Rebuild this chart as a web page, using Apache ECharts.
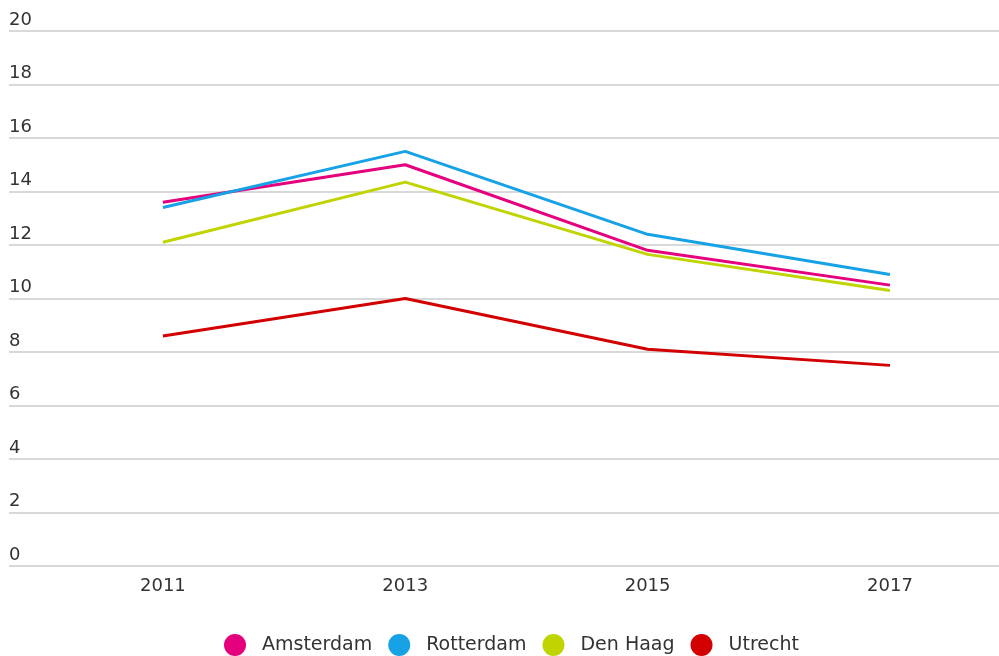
<!DOCTYPE html>
<html>
<head>
<meta charset="utf-8">
<script src="https://cdn.jsdelivr.net/npm/echarts@6/dist/echarts.min.js"></script>
<style>
html,body{margin:0;padding:0;background:#fff;}
#c{width:999px;height:656px;}
</style>
</head>
<body>
<div id="c"></div>
<script>
var years = [2011, 2013, 2015, 2017];
var seriesNames = ['Amsterdam', 'Rotterdam', 'Den Haag', 'Utrecht'];
var amsterdam = [13.6, 15.0, 11.8, 10.5];
var rotterdam = [13.4, 15.5, 12.4, 10.9];
var denHaag = [12.1, 14.35, 11.65, 10.3];
var utrecht = [8.6, 10.0, 8.1, 7.5];
var yTicks = [0, 2, 4, 6, 8, 10, 12, 14, 16, 18, 20];
var colors = ['#e5007d', '#17a2e6', '#bfd400', '#d20000'];

var values = [amsterdam, rotterdam, denHaag, utrecht];
var font = 'Verdana, "DejaVu Sans", sans-serif';

var chart = echarts.init(document.getElementById('c'), null, {renderer: 'canvas'});
chart.setOption({
  animation: false,
  color: colors,
  grid: {left: 9, right: 0, top: 31, bottom: 90, containLabel: false},
  legend: {
    data: seriesNames,
    top: 629,
    left: 219,
    icon: 'circle',
    itemWidth: 22,
    itemHeight: 22,
    itemGap: 16,
    textStyle: {fontFamily: font, fontSize: 19, color: '#333', padding: [0, 0, 0, 11]}
  },
  xAxis: {
    type: 'value',
    min: 2009.73,
    max: 2017.9,
    splitLine: {show: false},
    axisLine: {show: false},
    axisTick: {show: false},
    axisLabel: {
      customValues: years,
      fontFamily: font, fontSize: 18, color: '#333', margin: 11,
      formatter: function (v) { return String(v); }
    }
  },
  yAxis: {
    type: 'value',
    min: yTicks[0],
    max: yTicks[yTicks.length - 1],
    interval: 2,
    axisLine: {show: false},
    axisTick: {show: false},
    splitLine: {lineStyle: {color: '#d9d9d9', width: 2}},
    axisLabel: {
      inside: true,
      margin: 0,
      verticalAlign: 'bottom',
      padding: [0, 0, 2, 0],
      fontFamily: font, fontSize: 18, color: '#333'
    }
  },
  series: seriesNames.map(function (name, i) {
    return {
      name: name,
      type: 'line',
      symbol: 'none',
      lineStyle: {width: 3, color: colors[i]},
      data: years.map(function (y, j) { return [y, values[i][j]]; })
    };
  })
});
</script>
</body>
</html>
